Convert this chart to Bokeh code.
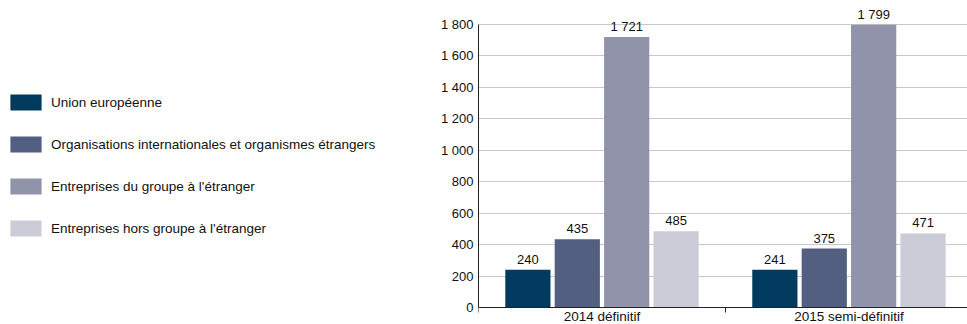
from bokeh.plotting import figure
from bokeh.models import (ColumnDataSource, Range1d, FixedTicker, LabelSet, Legend, LegendItem)
from bokeh.core.properties import value
from bokeh.transform import dodge
from bokeh.layouts import row
from bokeh.embed import file_html
from bokeh.resources import INLINE

categories = ["2014 définitif", "2015 semi-définitif"]
series_names = [
    "Union européenne",
    "Organisations internationales et organismes étrangers",
    "Entreprises du groupe à l'étranger",
    "Entreprises hors groupe à l'étranger",
]
union_europeenne = [240, 241]
organisations_internationales = [435, 375]
entreprises_groupe = [1721, 1799]
entreprises_hors_groupe = [485, 471]
y_ticks = [0, 200, 400, 600, 800, 1000, 1200, 1400, 1600, 1800]

colors = ["#003a5f", "#535f80", "#9093a9", "#cbccd7"]
offsets = [-0.3, -0.1, 0.1, 0.3]
FONT = "Liberation Sans"
FS = "13.5px"
NUM_FS = "13px"
TXT = "#111111"
AX = "#222222"


def fmt(v):
    return f"{v:,}".replace(",", " ")


values = [union_europeenne, organisations_internationales, entreprises_groupe, entreprises_hors_groupe]
data = {"xc": [i + 0.5 for i in range(len(categories))]}
for k, vals in enumerate(values):
    data[f"s{k}"] = vals
    data[f"l{k}"] = [fmt(v) for v in vals]
src = ColumnDataSource(data)

p = figure(width=548, height=324, output_backend="svg", toolbar_location=None,
           x_range=Range1d(0, 1.98), y_range=Range1d(-108, 1953),
           min_border_left=59, min_border_right=0, min_border_top=0, min_border_bottom=0)
p.outline_line_color = None
p.background_fill_color = None
p.border_fill_color = None

for k in range(4):
    p.vbar(x=dodge("xc", offsets[k], range=p.x_range), top=f"s{k}", bottom=0, width=0.183,
           source=src, fill_color=colors[k], line_color=None)
    lab = LabelSet(x=dodge("xc", offsets[k], range=p.x_range), y=f"s{k}", text=f"l{k}",
                   source=src, text_align="center", text_baseline="alphabetic", y_offset=6,
                   text_font=value(FONT), text_font_size=value(NUM_FS), text_color=TXT)
    p.add_layout(lab)

p.xgrid.visible = False
p.ygrid.grid_line_color = "#c8c8c8"
p.ygrid.grid_line_width = 1

p.yaxis.ticker = FixedTicker(ticks=y_ticks)
p.yaxis.major_label_overrides = {v: fmt(v) for v in y_ticks}
p.yaxis.bounds = (0, 1800)
p.yaxis.major_tick_line_color = None
p.yaxis.minor_tick_line_color = None
p.yaxis.major_tick_out = 0
p.yaxis.major_tick_in = 0
p.yaxis.major_label_standoff = 5
p.yaxis.axis_line_color = AX
p.yaxis.axis_line_width = 1
p.yaxis.major_label_text_font = FONT
p.yaxis.major_label_text_font_size = NUM_FS
p.yaxis.major_label_text_color = TXT

p.xaxis.fixed_location = 0
p.xaxis.ticker = FixedTicker(ticks=[i + 0.5 for i in range(len(categories))], minor_ticks=[0, 1, 2])
p.xaxis.major_label_overrides = {i + 0.5: c for i, c in enumerate(categories)}
p.xaxis.major_tick_line_color = None
p.xaxis.major_tick_out = 0
p.xaxis.major_tick_in = 0
p.xaxis.minor_tick_out = 5
p.xaxis.minor_tick_in = 0
p.xaxis.minor_tick_line_color = AX
p.xaxis.major_label_standoff = -4
p.xaxis.axis_line_color = AX
p.xaxis.axis_line_width = 1
p.xaxis.major_label_text_font = FONT
p.xaxis.major_label_text_font_size = FS
p.xaxis.major_label_text_color = TXT

# legend figure
lf = figure(width=419, height=324, output_backend="svg", toolbar_location=None,
            min_border=0, x_range=Range1d(0, 1), y_range=Range1d(0, 1))
lf.axis.visible = False
lf.grid.visible = False
lf.outline_line_color = None
lf.background_fill_color = None
lf.border_fill_color = None
lrs = []
for k in range(4):
    lrs.append(lf.vbar(x=[5], top=[1], width=0.1, fill_color=colors[k], line_color=None))
legend = Legend(items=[LegendItem(label=series_names[k], renderers=[lrs[k]]) for k in range(4)],
                location=(6, 86), orientation="vertical",
                glyph_width=39, glyph_height=20, label_height=20, spacing=22,
                label_standoff=6, padding=0, margin=0,
                border_line_color=None, background_fill_alpha=0,
                label_text_font=FONT, label_text_font_size=FS, label_text_color=TXT)
lf.add_layout(legend)

layout = row(lf, p, spacing=0)
open("out.html", "w").write(file_html(layout, INLINE))
